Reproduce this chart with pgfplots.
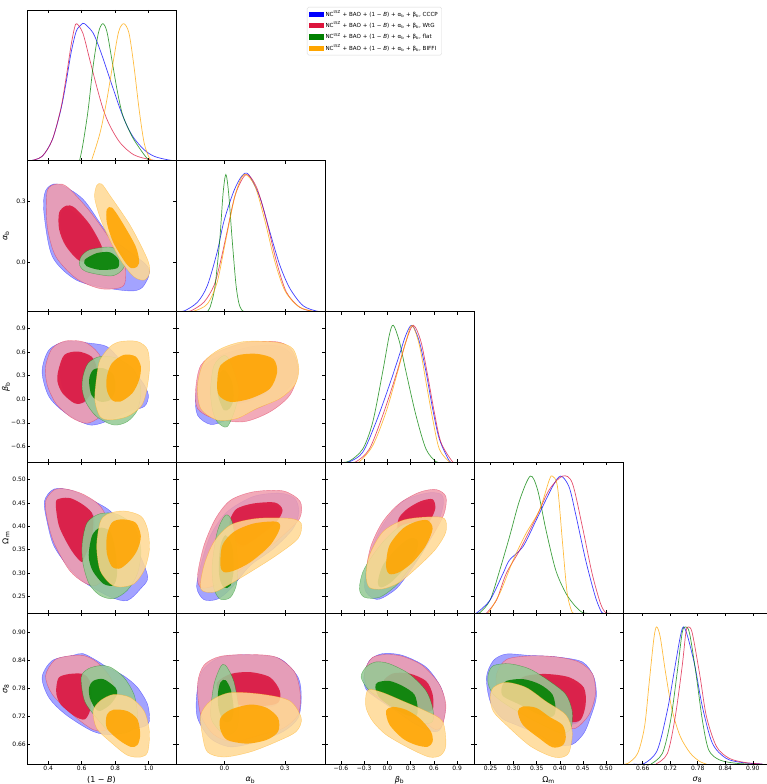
\documentclass[border=0pt]{standalone}
\usepackage{fontspec}
\setmainfont{DejaVu Sans}
\usepackage{pgfplots}
\pgfplotsset{compat=1.18}

\definecolor{cB}{RGB}{0,0,255}
\definecolor{cR}{RGB}{220,20,60}
\definecolor{cG}{RGB}{0,128,0}
\definecolor{cO}{RGB}{255,165,0}

\pgfplotsset{
  panel/.style={scale only axis, width=149pt, height=150.8pt, anchor=south west,
    axis line style={line width=0.6pt}, tick align=inside, major tick length=3pt,
    tick style={black, line width=0.5pt}, xticklabels={}, yticklabels={},
    tick label style={font=\fontsize{6}{7}\selectfont},
    xticklabel style={inner sep=1.5pt},
    yticklabel style={inner sep=1pt},
    xlabel style={font=\fontsize{8}{9}\selectfont, at={(axis description cs:0.5,-0.106)}, anchor=center},
    ylabel style={font=\fontsize{8}{9}\selectfont, at={(axis description cs:-0.141,0.5)}, anchor=center},
    axis on top},
  oned/.style={ymin=0, ymax=1.1, ytick=\empty},
  % parameter ranges and ticks
  xA/.style={xmin=0.273, xmax=1.163, xtick={0.4,0.6,0.8,1.0}},
  xB/.style={xmin=-0.241, xmax=0.50, xtick={0,0.3}},
  xC/.style={xmin=-0.805, xmax=1.118, xtick={-0.6,-0.3,0,0.3,0.6,0.9}},
  xD/.style={xmin=0.214, xmax=0.537, xtick={0.25,0.30,0.35,0.40,0.45,0.50}},
  xE/.style={xmin=0.617, xmax=0.942, xtick={0.66,0.72,0.78,0.84,0.90}},
  yB/.style={ymin=-0.241, ymax=0.50, ytick={0,0.3}},
  yC/.style={ymin=-0.805, ymax=1.118, ytick={-0.6,-0.3,0,0.3,0.6,0.9}},
  yD/.style={ymin=0.214, ymax=0.537, ytick={0.25,0.30,0.35,0.40,0.45,0.50}},
  yE/.style={ymin=0.617, ymax=0.942, ytick={0.66,0.72,0.78,0.84,0.90}},
  xAl/.style={xA, xticklabels={0.4,0.6,0.8,1.0}, xlabel={(1 − \textit{B})}},
  xBl/.style={xB, xticklabels={0.0,0.3}, xlabel={\textit{α}\textsubscript{b}}},
  xCl/.style={xC, xticklabels={−0.6,−0.3,0.0,0.3,0.6,0.9}, xlabel={\textit{β}\textsubscript{b}}},
  xDl/.style={xD, xticklabels={0.25,0.30,0.35,0.40,0.45,0.50}, xlabel={Ω\textsubscript{m}}},
  xEl/.style={xE, xticklabels={0.66,0.72,0.78,0.84,0.90}, xlabel={\textit{σ}\textsubscript{8}}},
  yBl/.style={yB, yticklabels={0.0,0.3}, ylabel={\textit{α}\textsubscript{b}}},
  yCl/.style={yC, yticklabels={−0.6,−0.3,0.0,0.3,0.6,0.9}, ylabel={\textit{β}\textsubscript{b}}},
  yDl/.style={yD, yticklabels={0.25,0.30,0.35,0.40,0.45,0.50}, ylabel={Ω\textsubscript{m}}},
  yEl/.style={yE, yticklabels={0.66,0.72,0.78,0.84,0.90}, ylabel={\textit{σ}\textsubscript{8}}},
  % marginal densities and credible regions (68% inner, 95% outer)
  dens/.style={smooth, draw=#1, line width=0.7pt, draw opacity=0.75, forget plot},
  co/.style={smooth cycle, fill=#1!42, fill opacity=0.86, draw=#1, draw opacity=0.45, line width=0.4pt, forget plot},
  ci/.style={smooth cycle, fill=#1, fill opacity=0.88, draw=none, forget plot},
  patch/.style={legend image code/.code={\fill[#1, sharp corners] (0pt,-2.2pt) rectangle (14pt,2.2pt);}},
}

\begin{document}
\begin{tikzpicture}
\useasboundingbox (0,0) rectangle (767pt,784pt);

% ---------------- row 1 : (1-B) ----------------
\begin{axis}[panel, xA, oned, at={(27pt,623.2pt)},
  legend style={at={(axis description cs:1.879,1.02)}, anchor=north west, draw=black!15,
    rounded corners=1.5pt, fill=white, font=\fontsize{5.6}{6.6}\selectfont,
    cells={anchor=west}, inner xsep=2pt, inner ysep=1.5pt, row sep=0.4pt}]
\addlegendimage{patch=cB}
\addlegendentry{NC\textsuperscript{tSZ} + BAO + (1 − \textit{B}) + α\textsubscript{b} + β\textsubscript{b}, CCCP}
\addlegendimage{patch=cR}
\addlegendentry{NC\textsuperscript{tSZ} + BAO + (1 − \textit{B}) + α\textsubscript{b} + β\textsubscript{b}, WtG}
\addlegendimage{patch=cG}
\addlegendentry{NC\textsuperscript{tSZ} + BAO + (1 − \textit{B}) + α\textsubscript{b} + β\textsubscript{b}, flat}
\addlegendimage{patch=cO}
\addlegendentry{NC\textsuperscript{tSZ} + BAO + (1 − \textit{B}) + α\textsubscript{b} + β\textsubscript{b}, BIFFI}
\addplot[dens=cB] coordinates {(0.292,0) (0.363,0.032) (0.424,0.153) (0.475,0.372) (0.506,0.567) (0.536,0.786) (0.567,0.944) (0.597,0.993) (0.617,1.0) (0.668,0.932) (0.709,0.81) (0.75,0.664) (0.79,0.518) (0.831,0.372) (0.872,0.251) (0.912,0.165) (0.973,0.08) (1.034,0.032) (1.115,0.007) (1.163,0)};
\addplot[dens=cR] coordinates {(0.292,0) (0.363,0.032) (0.424,0.153) (0.475,0.38) (0.506,0.6) (0.536,0.84) (0.557,0.97) (0.571,1.0) (0.607,0.93) (0.648,0.737) (0.689,0.543) (0.729,0.372) (0.770,0.251) (0.831,0.129) (0.912,0.043) (1.014,0.007) (1.08,0)};
\addplot[dens=cG] coordinates {(0.587,0) (0.607,0.12) (0.638,0.37) (0.668,0.69) (0.699,0.93) (0.725,1.0) (0.75,0.944) (0.78,0.737) (0.811,0.518) (0.841,0.348) (0.872,0.251) (0.912,0.153) (0.973,0.044) (1.004,0)};
\addplot[dens=cO] coordinates {(0.658,0) (0.709,0.202) (0.75,0.445) (0.79,0.737) (0.821,0.944) (0.851,1.0) (0.882,0.932) (0.912,0.689) (0.943,0.372) (0.973,0.129) (1.004,0.02) (1.024,0)};
\end{axis}

% ---------------- row 2 : alpha_b ----------------
\begin{axis}[panel, xA, yBl, at={(27pt,472.4pt)}]
\addplot[co=cB] coordinates {(0.384,0.353) (0.455,0.386) (0.607,0.312) (0.770,0.129) (0.994,-0.020) (0.973,-0.111) (0.912,-0.139) (0.770,-0.128) (0.567,-0.086) (0.424,0.030) (0.374,0.245)};
\addplot[ci=cB] coordinates {(0.475,0.237) (0.516,0.267) (0.638,0.187) (0.709,0.080) (0.699,0.041) (0.607,0.013) (0.516,0.080) (0.475,0.163)};
\addplot[co=cR] coordinates {(0.394,0.353) (0.455,0.386) (0.516,0.370) (0.638,0.262) (0.750,0.138) (0.851,0.013) (0.861,-0.086) (0.831,-0.123) (0.709,-0.128) (0.567,-0.078) (0.445,0.030) (0.394,0.179)};
\addplot[ci=cR] coordinates {(0.465,0.245) (0.506,0.279) (0.557,0.270) (0.648,0.187) (0.719,0.080) (0.709,0.038) (0.597,0.005) (0.506,0.080) (0.465,0.163)};
\addplot[co=cG] coordinates {(0.597,0.030) (0.648,0.063) (0.770,0.076) (0.841,0.046) (0.861,-0.003) (0.831,-0.045) (0.770,-0.066) (0.628,-0.045) (0.587,-0.012)};
\addplot[ci=cG] coordinates {(0.617,0.013) (0.689,0.046) (0.770,0.050) (0.821,0.013) (0.811,-0.028) (0.709,-0.036) (0.628,-0.017)};
\addplot[co=cO] coordinates {(0.689,0.378) (0.719,0.386) (0.770,0.328) (0.892,0.179) (0.994,0.013) (1.004,-0.053) (0.973,-0.086) (0.912,-0.070) (0.831,0.013) (0.729,0.179) (0.678,0.312)};
\addplot[ci=cO] coordinates {(0.750,0.262) (0.780,0.270) (0.831,0.212) (0.922,0.080) (0.943,-0.003) (0.912,-0.028) (0.872,-0.012) (0.790,0.096) (0.750,0.196)};
\end{axis}

\begin{axis}[panel, xB, oned, at={(176pt,472.4pt)}]
\addplot[dens=cB] coordinates {(-0.241,0) (-0.2,0.005) (-0.134,0.069) (-0.085,0.19) (-0.036,0.436) (-0.003,0.657) (0.046,0.877) (0.087,0.99) (0.12,1.0) (0.177,0.83) (0.226,0.58) (0.275,0.34) (0.325,0.17) (0.39,0.044) (0.46,0.003) (0.5,0)};
\addplot[dens=cR] coordinates {(-0.2,0) (-0.167,0.005) (-0.102,0.069) (-0.052,0.19) (-0.020,0.363) (0.013,0.583) (0.054,0.853) (0.108,1.0) (0.161,0.902) (0.210,0.657) (0.259,0.363) (0.308,0.142) (0.374,0.032) (0.439,0.002) (0.47,0)};
\addplot[dens=cG] coordinates {(-0.085,0) (-0.072,0.03) (-0.055,0.12) (-0.044,0.22) (-0.023,0.53) (-0.007,0.86) (0.007,1.0) (0.021,0.86) (0.038,0.53) (0.057,0.2) (0.072,0.06) (0.087,0.01) (0.10,0)};
\addplot[dens=cO] coordinates {(-0.19,0) (-0.151,0.004) (-0.085,0.056) (-0.036,0.216) (0.005,0.51) (0.054,0.853) (0.098,1.0) (0.152,0.914) (0.202,0.657) (0.251,0.363) (0.300,0.154) (0.366,0.039) (0.439,0.002) (0.47,0)};
\end{axis}

% ---------------- row 3 : beta_b ----------------
\begin{axis}[panel, xA, yCl, at={(27pt,321.6pt)}]
\addplot[co=cB] coordinates {(0.363,0.353) (0.404,0.630) (0.506,0.736) (0.648,0.715) (0.750,0.672) (0.831,0.502) (0.953,0.247) (0.998,0.055) (0.973,-0.094) (0.872,-0.157) (0.770,-0.264) (0.648,-0.328) (0.506,-0.179) (0.404,0.034)};
\addplot[ci=cB] coordinates {(0.469,0.353) (0.506,0.545) (0.587,0.587) (0.668,0.523) (0.699,0.374) (0.689,0.140) (0.628,-0.030) (0.557,-0.043) (0.496,0.077)};
\addplot[co=cR] coordinates {(0.384,0.417) (0.424,0.651) (0.506,0.745) (0.617,0.728) (0.699,0.587) (0.770,0.289) (0.770,-0.009) (0.709,-0.221) (0.628,-0.306) (0.536,-0.230) (0.445,-0.051) (0.394,0.183)};
\addplot[ci=cR] coordinates {(0.461,0.374) (0.496,0.566) (0.577,0.609) (0.658,0.545) (0.689,0.396) (0.678,0.162) (0.617,-0.030) (0.557,-0.051) (0.485,0.077) (0.455,0.226)};
\addplot[co=cG] coordinates {(0.607,0.289) (0.638,0.460) (0.709,0.545) (0.811,0.523) (0.912,0.374) (0.953,0.119) (0.933,-0.136) (0.872,-0.285) (0.790,-0.328) (0.689,-0.221) (0.628,-0.051) (0.603,0.119)};
\addplot[ci=cG] coordinates {(0.644,0.247) (0.668,0.374) (0.729,0.396) (0.790,0.311) (0.800,0.119) (0.770,-0.009) (0.709,-0.030) (0.658,0.055)};
\addplot[co=cO] coordinates {(0.770,0.672) (0.831,0.736) (0.933,0.736) (0.994,0.630) (1.004,0.374) (0.984,0.077) (0.953,-0.094) (0.872,-0.221) (0.770,-0.264) (0.709,-0.221) (0.678,-0.009) (0.689,0.289) (0.709,0.502)};
\addplot[ci=cO] coordinates {(0.750,0.289) (0.780,0.460) (0.851,0.566) (0.922,0.545) (0.953,0.417) (0.943,0.247) (0.902,0.077) (0.831,-0.030) (0.780,-0.009) (0.750,0.119)};
\end{axis}

\begin{axis}[panel, xB, yC, at={(176pt,321.6pt)}]
\addplot[co=cB] coordinates {(-0.143,0.051) (-0.110,0.389) (-0.020,0.558) (0.144,0.676) (0.275,0.676) (0.354,0.515) (0.354,0.283) (0.275,0.030) (0.144,-0.139) (0.013,-0.266) (-0.069,-0.321) (-0.134,-0.203)};
\addplot[ci=cB] coordinates {(-0.044,0.156) (-0.028,0.389) (0.054,0.515) (0.152,0.537) (0.226,0.473) (0.246,0.304) (0.210,0.093) (0.111,-0.034) (0.013,-0.068) (-0.036,0.008)};
\addplot[co=cR] coordinates {(-0.143,0.135) (-0.118,0.431) (-0.036,0.600) (0.111,0.727) (0.275,0.727) (0.341,0.600) (0.366,0.346) (0.325,0.051) (0.226,-0.161) (0.095,-0.287) (-0.052,-0.245) (-0.134,-0.118)};
\addplot[ci=cR] coordinates {(-0.033,0.199) (-0.016,0.410) (0.062,0.545) (0.161,0.566) (0.234,0.507) (0.256,0.346) (0.223,0.135) (0.128,0.017) (0.030,-0.025) (-0.023,0.051)};
\addplot[co=cG] coordinates {(-0.069,0.135) (-0.052,0.431) (-0.003,0.558) (0.030,0.473) (0.070,0.135) (0.054,-0.118) (0.013,-0.351) (-0.036,-0.287) (-0.061,-0.118)};
\addplot[ci=cG] coordinates {(-0.036,0.177) (-0.020,0.346) (0.005,0.368) (0.038,0.220) (0.046,0.008) (0.026,-0.118) (-0.003,-0.139) (-0.028,0.008)};
\addplot[co=cO] coordinates {(-0.134,0.177) (-0.102,0.473) (-0.020,0.642) (0.095,0.735) (0.259,0.727) (0.341,0.642) (0.370,0.389) (0.349,0.177) (0.275,0.008) (0.161,-0.118) (0.062,-0.245) (-0.036,-0.266) (-0.118,-0.118)};
\addplot[ci=cO] coordinates {(-0.036,0.220) (-0.020,0.431) (0.062,0.558) (0.161,0.579) (0.243,0.515) (0.262,0.346) (0.226,0.135) (0.128,0.008) (0.030,-0.034) (-0.028,0.051)};
\end{axis}

\begin{axis}[panel, xC, oned, at={(325pt,321.6pt)}]
\addplot[dens=cG] coordinates {(-0.62,0) (-0.489,0.01) (-0.318,0.098) (-0.189,0.294) (-0.060,0.662) (0.026,0.931) (0.077,1.0) (0.155,0.882) (0.240,0.662) (0.369,0.343) (0.498,0.098) (0.627,0.005) (0.7,0)};
\addplot[dens=cB] coordinates {(-0.6,0) (-0.489,0.005) (-0.318,0.074) (-0.146,0.294) (0.026,0.564) (0.155,0.784) (0.240,0.931) (0.318,1.0) (0.412,0.882) (0.498,0.662) (0.584,0.392) (0.670,0.172) (0.798,0.012) (0.86,0)};
\addplot[dens=cR] coordinates {(-0.5,0) (-0.403,0.005) (-0.232,0.098) (-0.060,0.343) (0.112,0.637) (0.240,0.882) (0.335,1.0) (0.433,0.882) (0.519,0.637) (0.605,0.368) (0.691,0.147) (0.841,0.005) (0.9,0)};
\addplot[dens=cO] coordinates {(-0.45,0) (-0.361,0.005) (-0.189,0.123) (-0.017,0.368) (0.133,0.662) (0.240,0.882) (0.318,1.0) (0.412,0.858) (0.498,0.588) (0.584,0.319) (0.670,0.098) (0.798,0.005) (0.85,0)};
\end{axis}

% ---------------- row 4 : Omega_m ----------------
\begin{axis}[panel, xA, yDl, at={(27pt,170.8pt)}]
\addplot[co=cB] coordinates {(0.377,0.454) (0.435,0.480) (0.546,0.476) (0.689,0.451) (0.770,0.433) (0.851,0.400) (0.933,0.350) (0.994,0.292) (0.953,0.267) (0.872,0.241) (0.770,0.249) (0.628,0.277) (0.536,0.306) (0.435,0.357) (0.394,0.408)};
\addplot[ci=cB] coordinates {(0.455,0.447) (0.485,0.457) (0.546,0.457) (0.628,0.440) (0.678,0.418) (0.668,0.368) (0.624,0.334) (0.587,0.328) (0.530,0.353) (0.469,0.400)};
\addplot[co=cR] coordinates {(0.384,0.454) (0.435,0.478) (0.506,0.480) (0.607,0.469) (0.709,0.444) (0.770,0.400) (0.790,0.342) (0.750,0.299) (0.689,0.274) (0.617,0.279) (0.526,0.306) (0.435,0.364) (0.394,0.415)};
\addplot[ci=cR] coordinates {(0.445,0.451) (0.475,0.460) (0.536,0.460) (0.617,0.444) (0.668,0.422) (0.658,0.371) (0.617,0.335) (0.597,0.324) (0.536,0.350) (0.465,0.400)};
\addplot[co=cG] coordinates {(0.603,0.364) (0.632,0.408) (0.709,0.427) (0.811,0.426) (0.912,0.400) (0.953,0.350) (0.933,0.299) (0.872,0.263) (0.790,0.245) (0.709,0.252) (0.644,0.277) (0.607,0.321)};
\addplot[ci=cG] coordinates {(0.644,0.350) (0.664,0.382) (0.709,0.397) (0.770,0.389) (0.800,0.350) (0.811,0.299) (0.790,0.274) (0.729,0.277) (0.668,0.303) (0.644,0.328)};
\addplot[co=cO] coordinates {(0.709,0.408) (0.750,0.426) (0.851,0.433) (0.953,0.422) (0.994,0.393) (1.004,0.350) (0.973,0.306) (0.912,0.277) (0.831,0.270) (0.770,0.277) (0.709,0.306) (0.689,0.357)};
\addplot[ci=cO] coordinates {(0.750,0.379) (0.780,0.408) (0.841,0.415) (0.922,0.408) (0.953,0.379) (0.933,0.350) (0.892,0.328) (0.831,0.310) (0.780,0.314) (0.750,0.342)};
\end{axis}

\begin{axis}[panel, xB, yD, at={(176pt,170.8pt)}]
\addplot[co=cB] coordinates {(-0.138,0.269) (-0.118,0.316) (-0.069,0.381) (0.013,0.431) (0.144,0.464) (0.275,0.471) (0.349,0.460) (0.370,0.431) (0.341,0.395) (0.243,0.352) (0.128,0.316) (0.030,0.266) (-0.036,0.244) (-0.102,0.243)};
\addplot[ci=cB] coordinates {(0.026,0.410) (0.059,0.433) (0.144,0.444) (0.246,0.446) (0.279,0.430) (0.246,0.404) (0.164,0.375) (0.087,0.356) (0.043,0.368)};
\addplot[co=cR] coordinates {(-0.134,0.295) (-0.102,0.359) (-0.044,0.417) (0.030,0.456) (0.144,0.474) (0.292,0.476) (0.377,0.453) (0.374,0.417) (0.292,0.381) (0.177,0.338) (0.062,0.302) (-0.052,0.273) (-0.118,0.269)};
\addplot[ci=cR] coordinates {(0.030,0.417) (0.062,0.438) (0.144,0.449) (0.251,0.451) (0.289,0.435) (0.259,0.410) (0.177,0.381) (0.095,0.359) (0.046,0.374) (0.026,0.399)};
\addplot[co=cG] coordinates {(-0.061,0.316) (-0.036,0.388) (0.005,0.424) (0.038,0.410) (0.062,0.345) (0.062,0.280) (0.030,0.248) (-0.020,0.244) (-0.052,0.266)};
\addplot[ci=cG] coordinates {(-0.028,0.316) (-0.020,0.359) (0.005,0.381) (0.038,0.359) (0.046,0.309) (0.030,0.273) (-0.003,0.269) (-0.023,0.287)};
\addplot[co=cO] coordinates {(-0.118,0.266) (-0.102,0.316) (-0.052,0.367) (0.030,0.403) (0.161,0.417) (0.325,0.417) (0.382,0.406) (0.366,0.374) (0.259,0.338) (0.128,0.302) (0.030,0.277) (-0.052,0.259)};
\addplot[ci=cO] coordinates {(-0.020,0.316) (-0.011,0.359) (0.046,0.388) (0.144,0.406) (0.259,0.410) (0.275,0.395) (0.226,0.359) (0.128,0.323) (0.046,0.305) (-0.003,0.302)};
\end{axis}

\begin{axis}[panel, xC, yD, at={(325pt,170.8pt)}]
\addplot[co=cB] coordinates {(-0.296,0.273) (-0.232,0.338) (-0.060,0.403) (0.197,0.453) (0.498,0.471) (0.691,0.469) (0.721,0.446) (0.627,0.395) (0.455,0.345) (0.283,0.302) (0.112,0.266) (-0.103,0.244) (-0.232,0.251)};
\addplot[ci=cB] coordinates {(0.133,0.410) (0.249,0.433) (0.421,0.448) (0.562,0.451) (0.592,0.433) (0.515,0.405) (0.348,0.377) (0.185,0.363) (0.120,0.383)};
\addplot[co=cR] coordinates {(-0.275,0.305) (-0.210,0.359) (-0.060,0.410) (0.155,0.449) (0.412,0.473) (0.627,0.479) (0.755,0.464) (0.734,0.428) (0.584,0.381) (0.369,0.338) (0.112,0.298) (-0.103,0.277) (-0.253,0.280)};
\addplot[ci=cR] coordinates {(0.146,0.417) (0.262,0.438) (0.433,0.454) (0.584,0.458) (0.618,0.438) (0.541,0.410) (0.369,0.381) (0.197,0.367) (0.133,0.388)};
\addplot[co=cG] coordinates {(-0.361,0.266) (-0.318,0.302) (-0.189,0.338) (-0.017,0.374) (0.197,0.403) (0.498,0.410) (0.541,0.388) (0.455,0.345) (0.283,0.309) (0.112,0.273) (-0.103,0.248) (-0.296,0.248)};
\addplot[ci=cG] coordinates {(-0.124,0.280) (-0.060,0.316) (0.112,0.352) (0.283,0.374) (0.391,0.370) (0.369,0.341) (0.219,0.309) (0.047,0.280) (-0.082,0.269)};
\addplot[co=cO] coordinates {(-0.275,0.295) (-0.232,0.338) (-0.060,0.388) (0.197,0.413) (0.498,0.420) (0.734,0.417) (0.755,0.388) (0.627,0.352) (0.412,0.316) (0.155,0.280) (-0.060,0.266) (-0.232,0.269)};
\addplot[ci=cO] coordinates {(-0.017,0.316) (0.026,0.359) (0.197,0.395) (0.369,0.410) (0.519,0.413) (0.584,0.395) (0.498,0.359) (0.326,0.323) (0.155,0.302) (0.026,0.298)};
\end{axis}

\begin{axis}[panel, xD, oned, at={(474pt,170.8pt)}]
\addplot[dens=cG] coordinates {(0.214,0) (0.227,0.005) (0.249,0.097) (0.270,0.316) (0.291,0.558) (0.313,0.825) (0.336,1.0) (0.352,0.898) (0.370,0.607) (0.391,0.316) (0.413,0.146) (0.434,0.049) (0.449,0.005) (0.46,0)};
\addplot[dens=cB] coordinates {(0.214,0) (0.220,0.002) (0.249,0.097) (0.277,0.29) (0.291,0.388) (0.320,0.485) (0.349,0.68) (0.384,0.922) (0.402,1.0) (0.420,0.922) (0.434,0.728) (0.456,0.388) (0.477,0.121) (0.491,0.005) (0.5,0)};
\addplot[dens=cR] coordinates {(0.241,0) (0.263,0.097) (0.284,0.29) (0.313,0.46) (0.349,0.7) (0.377,0.9) (0.406,1.0) (0.427,0.95) (0.449,0.63) (0.470,0.29) (0.488,0.073) (0.499,0.005) (0.51,0)};
\addplot[dens=cO] coordinates {(0.245,0) (0.270,0.146) (0.299,0.388) (0.327,0.583) (0.356,0.752) (0.377,0.97) (0.384,1.0) (0.395,0.922) (0.406,0.51) (0.416,0.146) (0.427,0.005) (0.435,0)};
\end{axis}

% ---------------- row 5 : sigma_8 ----------------
\begin{axis}[panel, xAl, yEl, at={(27pt,20pt)}]
\addplot[co=cB] coordinates {(0.363,0.804) (0.424,0.840) (0.546,0.851) (0.607,0.855) (0.689,0.840) (0.750,0.826) (0.851,0.807) (0.933,0.782) (0.994,0.745) (1.004,0.709) (0.973,0.698) (0.892,0.691) (0.790,0.680) (0.668,0.687) (0.506,0.723) (0.404,0.760)};
\addplot[ci=cB] coordinates {(0.455,0.785) (0.475,0.804) (0.536,0.809) (0.611,0.809) (0.652,0.795) (0.664,0.760) (0.652,0.731) (0.617,0.715) (0.557,0.722) (0.481,0.747)};
\addplot[co=cR] coordinates {(0.384,0.807) (0.435,0.840) (0.506,0.849) (0.607,0.851) (0.689,0.837) (0.770,0.804) (0.811,0.760) (0.800,0.716) (0.750,0.691) (0.668,0.691) (0.546,0.723) (0.424,0.767)};
\addplot[ci=cR] coordinates {(0.449,0.785) (0.465,0.804) (0.526,0.811) (0.607,0.811) (0.648,0.796) (0.658,0.760) (0.648,0.731) (0.617,0.713) (0.557,0.720) (0.475,0.745) (0.449,0.767)};
\addplot[co=cG] coordinates {(0.597,0.804) (0.638,0.822) (0.709,0.829) (0.770,0.826) (0.851,0.804) (0.912,0.767) (0.933,0.723) (0.912,0.694) (0.851,0.683) (0.770,0.686) (0.689,0.716) (0.617,0.753)};
\addplot[ci=cG] coordinates {(0.644,0.782) (0.668,0.796) (0.729,0.800) (0.800,0.782) (0.811,0.767) (0.770,0.745) (0.709,0.731) (0.678,0.738) (0.648,0.760)};
\addplot[co=cO] coordinates {(0.668,0.731) (0.709,0.753) (0.790,0.767) (0.892,0.760) (0.973,0.731) (1.004,0.687) (0.994,0.643) (0.953,0.632) (0.872,0.636) (0.770,0.665) (0.689,0.694)};
\addplot[ci=cO] coordinates {(0.750,0.723) (0.790,0.734) (0.872,0.731) (0.933,0.713) (0.949,0.680) (0.933,0.658) (0.892,0.654) (0.821,0.669) (0.750,0.694)};
\end{axis}

\begin{axis}[panel, xBl, yE, at={(176pt,20pt)}]
\addplot[co=cB] coordinates {(-0.138,0.767) (-0.110,0.818) (-0.020,0.847) (0.128,0.852) (0.275,0.844) (0.366,0.804) (0.382,0.760) (0.366,0.716) (0.292,0.687) (0.161,0.665) (0.030,0.654) (-0.069,0.672) (-0.134,0.716)};
\addplot[ci=cB] coordinates {(-0.036,0.788) (0.030,0.807) (0.128,0.810) (0.223,0.799) (0.269,0.771) (0.259,0.745) (0.185,0.737) (0.087,0.737) (0.010,0.751)};
\addplot[co=cR] coordinates {(-0.134,0.789) (-0.102,0.830) (-0.020,0.849) (0.128,0.853) (0.259,0.847) (0.349,0.815) (0.377,0.767) (0.366,0.723) (0.292,0.694) (0.177,0.680) (0.046,0.665) (-0.052,0.680) (-0.118,0.723)};
\addplot[ci=cR] coordinates {(-0.036,0.793) (0.030,0.811) (0.128,0.815) (0.226,0.804) (0.275,0.775) (0.267,0.749) (0.193,0.742) (0.095,0.742) (0.013,0.756) (-0.028,0.771)};
\addplot[co=cG] coordinates {(-0.069,0.731) (-0.052,0.789) (-0.020,0.826) (0.005,0.830) (0.046,0.796) (0.070,0.738) (0.062,0.694) (0.021,0.680) (-0.020,0.687) (-0.061,0.709)};
\addplot[ci=cG] coordinates {(-0.033,0.767) (-0.020,0.793) (0.005,0.798) (0.033,0.775) (0.046,0.731) (0.030,0.709) (-0.003,0.709) (-0.028,0.734)};
\addplot[co=cO] coordinates {(-0.118,0.723) (-0.069,0.753) (0.030,0.771) (0.193,0.767) (0.325,0.753) (0.382,0.716) (0.357,0.687) (0.259,0.665) (0.128,0.643) (-0.003,0.632) (-0.085,0.643) (-0.110,0.680)};
\addplot[ci=cO] coordinates {(-0.020,0.716) (0.030,0.734) (0.128,0.745) (0.210,0.738) (0.267,0.716) (0.267,0.687) (0.210,0.669) (0.111,0.661) (0.013,0.669) (-0.020,0.691)};
\end{axis}

\begin{axis}[panel, xCl, yE, at={(325pt,20pt)}]
\addplot[co=cB] coordinates {(-0.305,0.804) (-0.232,0.840) (-0.060,0.855) (0.197,0.851) (0.498,0.826) (0.691,0.782) (0.747,0.738) (0.691,0.694) (0.584,0.687) (0.369,0.702) (0.112,0.731) (-0.146,0.760) (-0.275,0.778)};
\addplot[ci=cB] coordinates {(-0.069,0.788) (0.060,0.807) (0.275,0.807) (0.476,0.791) (0.562,0.763) (0.554,0.731) (0.421,0.727) (0.210,0.742) (0.004,0.763)};
\addplot[co=cR] coordinates {(-0.275,0.826) (-0.189,0.847) (-0.017,0.853) (0.197,0.849) (0.455,0.829) (0.670,0.789) (0.755,0.745) (0.712,0.702) (0.627,0.691) (0.455,0.709) (0.197,0.731) (-0.060,0.753) (-0.232,0.775) (-0.296,0.804)};
\addplot[ci=cR] coordinates {(-0.060,0.793) (0.069,0.812) (0.283,0.812) (0.498,0.796) (0.584,0.767) (0.584,0.734) (0.455,0.731) (0.240,0.745) (0.026,0.767)};
\addplot[co=cG] coordinates {(-0.339,0.804) (-0.275,0.826) (-0.146,0.837) (0.026,0.833) (0.283,0.811) (0.498,0.775) (0.584,0.738) (0.584,0.709) (0.455,0.705) (0.240,0.731) (-0.017,0.753) (-0.232,0.775)};
\addplot[ci=cG] coordinates {(-0.155,0.782) (-0.124,0.793) (0.026,0.796) (0.197,0.785) (0.348,0.767) (0.391,0.738) (0.369,0.720) (0.240,0.723) (0.069,0.738) (-0.103,0.760)};
\addplot[co=cO] coordinates {(-0.275,0.767) (-0.232,0.778) (-0.060,0.771) (0.197,0.753) (0.498,0.731) (0.712,0.709) (0.755,0.658) (0.691,0.636) (0.541,0.632) (0.283,0.651) (-0.017,0.680) (-0.189,0.709) (-0.275,0.738)};
\addplot[ci=cO] coordinates {(-0.017,0.731) (0.069,0.740) (0.240,0.734) (0.412,0.716) (0.562,0.687) (0.584,0.665) (0.519,0.654) (0.369,0.658) (0.197,0.672) (0.026,0.702)};
\end{axis}

\begin{axis}[panel, xDl, yE, at={(474pt,20pt)}]
\addplot[co=cB] coordinates {(0.241,0.804) (0.256,0.840) (0.284,0.854) (0.334,0.851) (0.391,0.848) (0.449,0.837) (0.474,0.804) (0.479,0.760) (0.466,0.716) (0.452,0.683) (0.427,0.659) (0.391,0.659) (0.349,0.683) (0.306,0.701) (0.274,0.716) (0.249,0.752)};
\addplot[ci=cB] coordinates {(0.302,0.788) (0.324,0.802) (0.366,0.805) (0.416,0.798) (0.447,0.776) (0.451,0.739) (0.440,0.707) (0.415,0.703) (0.372,0.718) (0.329,0.747) (0.306,0.769)};
\addplot[co=cR] coordinates {(0.263,0.811) (0.284,0.842) (0.334,0.850) (0.391,0.848) (0.441,0.837) (0.471,0.811) (0.477,0.767) (0.463,0.723) (0.434,0.694) (0.406,0.701) (0.349,0.723) (0.299,0.752) (0.266,0.774)};
\addplot[ci=cR] coordinates {(0.306,0.793) (0.327,0.807) (0.370,0.811) (0.420,0.804) (0.452,0.782) (0.456,0.745) (0.445,0.712) (0.420,0.708) (0.377,0.723) (0.334,0.752) (0.309,0.774)};
\addplot[co=cG] coordinates {(0.245,0.811) (0.256,0.829) (0.291,0.833) (0.334,0.822) (0.377,0.796) (0.413,0.767) (0.427,0.730) (0.424,0.694) (0.406,0.683) (0.377,0.694) (0.334,0.716) (0.284,0.745) (0.256,0.767) (0.245,0.789)};
\addplot[ci=cG] coordinates {(0.274,0.782) (0.284,0.796) (0.320,0.800) (0.356,0.789) (0.384,0.767) (0.391,0.734) (0.384,0.719) (0.356,0.723) (0.313,0.745) (0.277,0.763)};
\addplot[co=cO] coordinates {(0.249,0.760) (0.256,0.782) (0.284,0.793) (0.327,0.782) (0.370,0.752) (0.413,0.723) (0.427,0.686) (0.420,0.642) (0.402,0.631) (0.377,0.635) (0.334,0.657) (0.284,0.701) (0.256,0.730)};
\addplot[ci=cO] coordinates {(0.309,0.730) (0.320,0.741) (0.349,0.738) (0.377,0.719) (0.406,0.701) (0.413,0.675) (0.406,0.657) (0.384,0.653) (0.356,0.672) (0.320,0.701)};
\end{axis}

\begin{axis}[panel, xEl, oned, at={(623pt,20pt)}]
\addplot[dens=cO] coordinates {(0.617,0) (0.628,0.005) (0.649,0.078) (0.664,0.273) (0.674,0.59) (0.684,0.907) (0.690,1.0) (0.698,0.93) (0.710,0.663) (0.724,0.395) (0.742,0.2) (0.764,0.078) (0.785,0.017) (0.799,0)};
\addplot[dens=cB] coordinates {(0.64,0) (0.664,0.005) (0.692,0.102) (0.714,0.395) (0.728,0.663) (0.742,0.93) (0.749,1.0) (0.758,0.93) (0.774,0.712) (0.790,0.42) (0.812,0.151) (0.842,0.041) (0.878,0.01) (0.921,0)};
\addplot[dens=cG] coordinates {(0.678,0) (0.703,0.078) (0.721,0.322) (0.735,0.663) (0.746,0.956) (0.753,1.0) (0.762,0.956) (0.776,0.663) (0.790,0.322) (0.804,0.102) (0.828,0.029) (0.864,0.005) (0.892,0)};
\addplot[dens=cR] coordinates {(0.689,0) (0.714,0.078) (0.731,0.346) (0.746,0.712) (0.754,0.956) (0.759,1.0) (0.768,0.956) (0.785,0.639) (0.799,0.346) (0.821,0.127) (0.849,0.041) (0.885,0.01) (0.921,0)};
\end{axis}
\end{tikzpicture}
\end{document}
